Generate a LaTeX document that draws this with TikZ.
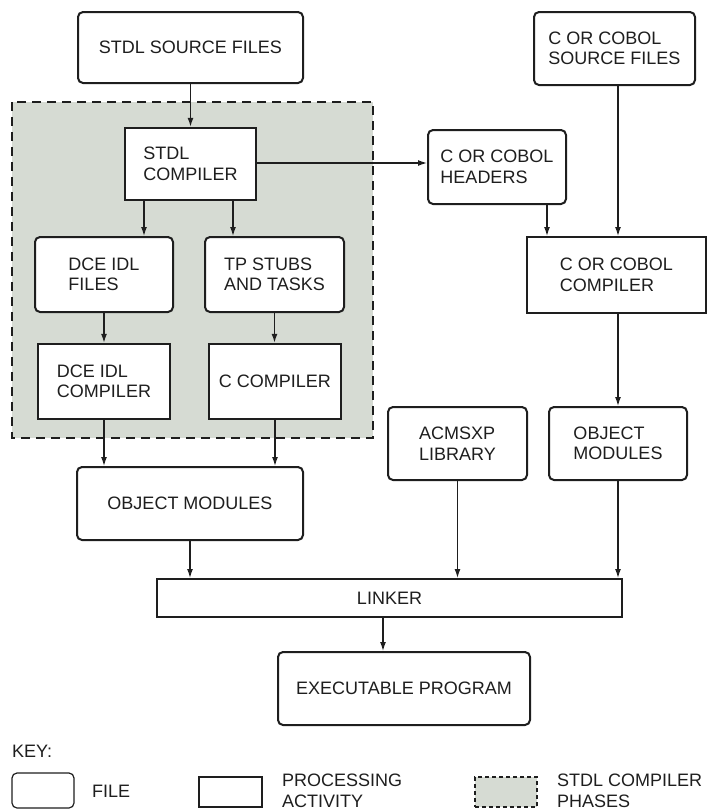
\documentclass[tikz,border=0pt]{standalone}
\usepackage{fontspec}
\setmainfont{Liberation Sans}
\usetikzlibrary{arrows.meta}

\definecolor{phasegray}{RGB}{214,219,211}
\definecolor{ink}{RGB}{30,30,30}

\tikzset{
  file/.style={draw=ink, rounded corners=5pt, line width=2pt, fill=white, align=left, inner sep=0pt},
  activity/.style={draw=ink, line width=2pt, fill=white, align=left, inner sep=0pt},
  flow/.style={arrows={-{Latex[length=9pt,width=6pt]}}, line width=1.3pt, draw=ink},
}

\begin{document}
\begin{tikzpicture}[x=1pt, y=-1pt, font=\fontsize{18}{20.5}\selectfont, text=ink]
\useasboundingbox (0,0) rectangle (708,812);

% compiler phases
\draw[fill=phasegray, draw=ink, line width=1.8pt, dash pattern=on 9pt off 6pt]
  (12,102) rectangle (373,438);

\node[file, minimum width=225pt, minimum height=71pt] at (190.5,47.5) (stdlsrc) {STDL SOURCE FILES};
\node[activity, minimum width=131pt, minimum height=72pt, line width=2.4pt] at (190.5,164) (stdlc) {STDL\\COMPILER};
\node[file, minimum width=138pt, minimum height=75pt] at (104,274.5) (idlf) {DCE IDL\\FILES};
\node[file, minimum width=139pt, minimum height=75pt] at (274.5,274.5) (tpst) {TP STUBS\\AND TASKS};
\node[activity, minimum width=132pt, minimum height=75pt, line width=2.4pt] at (104,381.5) (idlc) {DCE IDL\\COMPILER};
\node[activity, minimum width=132pt, minimum height=75pt, line width=2.4pt] at (275,381.5) (ccomp) {C COMPILER};
\node[file, minimum width=226pt, minimum height=73pt] at (190,503.5) (objl) {OBJECT MODULES};

\node[file, minimum width=161pt, minimum height=73pt] at (614.5,48.5) (cobsrc) {C OR COBOL\\SOURCE FILES};
\node[file, minimum width=138pt, minimum height=74pt] at (497,167) (hdrs) {C OR COBOL\\HEADERS};
\node[activity, minimum width=179pt, minimum height=76pt] at (616.5,275) (cobc) {C OR COBOL\\COMPILER};
\node[file, minimum width=139pt, minimum height=73pt] at (457.5,443.5) (acms) {ACMSXP\\LIBRARY};
\node[file, minimum width=138pt, minimum height=73pt] at (618,443.5) (objr) {OBJECT\\MODULES};

\node[activity, minimum width=465pt, minimum height=38pt] at (389.5,598) (linker) {LINKER};
\node[file, minimum width=252pt, minimum height=73pt] at (404,688.5) (exe) {EXECUTABLE PROGRAM};

\draw[flow] (stdlsrc.south) -- (stdlsrc.south |- stdlc.north);
\draw[flow] ([xshift=-46.5pt]stdlc.south) -- ([xshift=-46.5pt]stdlc.south |- idlf.north);
\draw[flow] ([xshift=42.5pt]stdlc.south) -- ([xshift=42.5pt]stdlc.south |- tpst.north);
\draw[flow] (stdlc.east |- 0,163) -- (hdrs.west |- 0,163);
\draw[flow] (idlf.south) -- (idlc.north);
\draw[flow] (tpst.south) -- (tpst.south |- ccomp.north);
\draw[flow] (idlc.south) -- (idlc.south |- objl.north);
\draw[flow] (ccomp.south) -- (ccomp.south |- objl.north);
\draw[flow] ([xshift=50pt]hdrs.south) -- ([xshift=50pt]hdrs.south |- cobc.north);
\draw[flow] ([xshift=3.5pt]cobsrc.south) -- ([xshift=3.5pt]cobsrc.south |- cobc.north);
\draw[flow] (cobc.south -| objr.north) -- (objr.north);
\draw[flow] (objl.south) -- (objl.south |- linker.north);
\draw[flow] (acms.south) -- (acms.south |- linker.north);
\draw[flow] (objr.south) -- (objr.south |- linker.north);
\draw[flow] ([xshift=-6.5pt]linker.south) -- ([xshift=-6.5pt]linker.south |- exe.north);

% key
\node[anchor=west, inner sep=0pt] at (12,751) (keyhead) {KEY:};
\node[file, minimum width=62pt, minimum height=35pt, line width=1.2pt] at (43,790.5) (keyfile) {};
\node[anchor=west, inner sep=0pt] at (92,791) (keyfiletxt) {FILE};
\node[activity, minimum width=63pt, minimum height=30pt, line width=1.2pt] at (230.5,792) (keyact) {};
\node[anchor=west, align=left, inner sep=0pt] at (282,791) (keyacttxt) {PROCESSING\\ACTIVITY};
\node[draw=ink, fill=phasegray, line width=1.2pt, dash pattern=on 4pt off 3pt,
  minimum width=62pt, minimum height=30pt, inner sep=0pt] at (506,792) (keyphase) {};
\node[anchor=west, align=left, inner sep=0pt] at (557,791) (keyphasetxt) {STDL COMPILER\\PHASES};
\end{tikzpicture}
\end{document}
